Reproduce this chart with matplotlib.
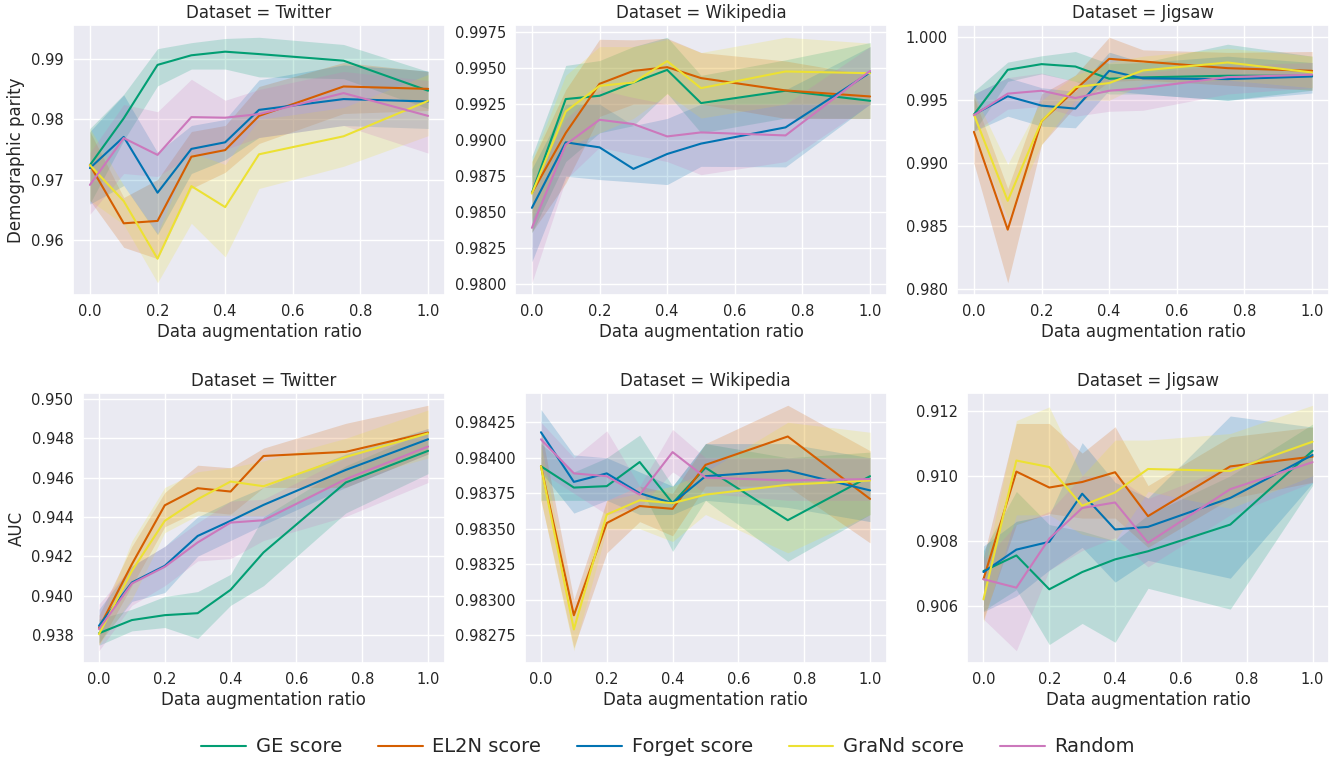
import matplotlib
matplotlib.use("Agg")
import matplotlib.pyplot as plt
import seaborn as sns
from matplotlib.ticker import MultipleLocator, ScalarFormatter
from matplotlib.lines import Line2D

# Data augmentation ratios shared by every panel
X = [0.0, 0.1, 0.2, 0.3, 0.4, 0.5, 0.75, 1.0]
METHODS = ["GE score", "EL2N score", "Forget score", "GraNd score", "Random"]
COLORS = ["#029e73", "#d55e00", "#0173b2", "#ece133", "#cc78bc"]

# ---- Demographic parity, Twitter (mean, lower band, upper band per method)
twitter_dp_mean = {
    "GE score":     [0.9724, 0.9802, 0.9891, 0.9907, 0.9913, 0.9909, 0.9898, 0.9848],
    "EL2N score":   [0.9724, 0.9627, 0.9631, 0.9738, 0.9749, 0.9806, 0.9855, 0.9851],
    "Forget score": [0.9719, 0.9771, 0.9678, 0.9751, 0.9762, 0.9816, 0.9834, 0.9830],
    "GraNd score":  [0.9724, 0.9664, 0.9568, 0.9689, 0.9654, 0.9742, 0.9772, 0.9831],
    "Random":       [0.9691, 0.9769, 0.9741, 0.9804, 0.9803, 0.9809, 0.9844, 0.9806],
}
twitter_dp_lo = {
    "GE score":     [0.9660, 0.9765, 0.9856, 0.9884, 0.9884, 0.9871, 0.9868, 0.9818],
    "EL2N score":   [0.9665, 0.9587, 0.9568, 0.9685, 0.9712, 0.9760, 0.9810, 0.9815],
    "Forget score": [0.9659, 0.9690, 0.9608, 0.9710, 0.9733, 0.9770, 0.9790, 0.9785],
    "GraNd score":  [0.9665, 0.9625, 0.9528, 0.9627, 0.9571, 0.9685, 0.9722, 0.9773],
    "Random":       [0.9642, 0.9710, 0.9705, 0.9740, 0.9750, 0.9770, 0.9790, 0.9744],
}
twitter_dp_hi = {
    "GE score":     [0.9785, 0.9842, 0.9918, 0.9928, 0.9935, 0.9937, 0.9925, 0.9880],
    "EL2N score":   [0.9780, 0.9670, 0.9700, 0.9780, 0.9790, 0.9855, 0.9895, 0.9880],
    "Forget score": [0.9780, 0.9841, 0.9745, 0.9790, 0.9800, 0.9866, 0.9891, 0.9881],
    "GraNd score":  [0.9785, 0.9690, 0.9610, 0.9745, 0.9725, 0.9800, 0.9820, 0.9875],
    "Random":       [0.9745, 0.9825, 0.9813, 0.9867, 0.9832, 0.9850, 0.9880, 0.9865],
}

# ---- Demographic parity, Wikipedia
wikipedia_dp_mean = {
    "GE score":     [0.98632, 0.99285, 0.99308, 0.99400, 0.99488, 0.99257, 0.99343, 0.99273],
    "EL2N score":   [0.98632, 0.99049, 0.99391, 0.99481, 0.99507, 0.99431, 0.99345, 0.99303],
    "Forget score": [0.98528, 0.98984, 0.98949, 0.98799, 0.98903, 0.98975, 0.99088, 0.99470],
    "GraNd score":  [0.98627, 0.99199, 0.99377, 0.99400, 0.99549, 0.99361, 0.99477, 0.99465],
    "Random":       [0.98389, 0.98968, 0.99141, 0.99111, 0.99025, 0.99053, 0.99032, 0.99481],
}
wikipedia_dp_lo = {
    "GE score":     [0.98354, 0.98850, 0.99050, 0.99100, 0.99326, 0.99050, 0.99153, 0.99150],
    "EL2N score":   [0.98359, 0.98700, 0.99164, 0.99250, 0.99250, 0.99250, 0.99150, 0.99150],
    "Forget score": [0.98153, 0.98748, 0.98725, 0.98708, 0.98690, 0.98817, 0.98813, 0.99250],
    "GraNd score":  [0.98450, 0.98950, 0.99050, 0.99150, 0.99320, 0.99153, 0.99250, 0.99250],
    "Random":       [0.98007, 0.98725, 0.98950, 0.98898, 0.98850, 0.98759, 0.98850, 0.99250],
}
wikipedia_dp_hi = {
    "GE score":     [0.98887, 0.99519, 0.99553, 0.99650, 0.99715, 0.99450, 0.99558, 0.99678],
    "EL2N score":   [0.98850, 0.99350, 0.99701, 0.99697, 0.99708, 0.99609, 0.99550, 0.99450],
    "Forget score": [0.98800, 0.99250, 0.99250, 0.99100, 0.99150, 0.99250, 0.99350, 0.99650],
    "GraNd score":  [0.98852, 0.99450, 0.99650, 0.99650, 0.99700, 0.99609, 0.99715, 0.99674],
    "Random":       [0.98700, 0.99150, 0.99350, 0.99296, 0.99250, 0.99250, 0.99250, 0.99650],
}

# ---- Demographic parity, Jigsaw
jigsaw_dp_mean = {
    "GE score":     [0.99387, 0.99742, 0.99787, 0.99768, 0.99671, 0.99682, 0.99695, 0.99695],
    "EL2N score":   [0.99250, 0.98474, 0.99334, 0.99584, 0.99829, 0.99808, 0.99755, 0.99734],
    "Forget score": [0.99387, 0.99532, 0.99458, 0.99434, 0.99734, 0.99674, 0.99668, 0.99689],
    "GraNd score":  [0.99387, 0.98703, 0.99334, 0.99605, 0.99637, 0.99737, 0.99800, 0.99721],
    "Random":       [0.99382, 0.99553, 0.99576, 0.99518, 0.99576, 0.99597, 0.99684, 0.99703],
}
jigsaw_dp_lo = {
    "GE score":     [0.99250, 0.99650, 0.99710, 0.99650, 0.99550, 0.99550, 0.99500, 0.99580],
    "EL2N score":   [0.99000, 0.98053, 0.99150, 0.99450, 0.99650, 0.99660, 0.99620, 0.99580],
    "Forget score": [0.99255, 0.99374, 0.99295, 0.99282, 0.99580, 0.99550, 0.99500, 0.99558],
    "GraNd score":  [0.99250, 0.98563, 0.99150, 0.99500, 0.99500, 0.99630, 0.99660, 0.99600],
    "Random":       [0.99250, 0.99430, 0.99450, 0.99374, 0.99413, 0.99421, 0.99550, 0.99600],
}
jigsaw_dp_hi = {
    "GE score":     [0.99571, 0.99803, 0.99853, 0.99887, 0.99790, 0.99800, 0.99945, 0.99850],
    "EL2N score":   [0.99526, 0.98800, 0.99550, 0.99700, 1.00000, 0.99900, 0.99880, 0.99887],
    "Forget score": [0.99550, 0.99680, 0.99600, 0.99570, 0.99882, 0.99800, 0.99850, 0.99800],
    "GraNd score":  [0.99550, 0.98992, 0.99500, 0.99700, 0.99800, 0.99850, 0.99913, 0.99850],
    "Random":       [0.99550, 0.99680, 0.99716, 0.99650, 0.99680, 0.99720, 0.99780, 0.99800],
}

# ---- AUC, Twitter
twitter_auc_mean = {
    "GE score":     [0.93808, 0.93875, 0.93900, 0.93910, 0.94029, 0.94219, 0.94575, 0.94736],
    "EL2N score":   [0.93834, 0.94159, 0.94459, 0.94546, 0.94529, 0.94710, 0.94731, 0.94829],
    "Forget score": [0.93846, 0.94066, 0.94151, 0.94303, 0.94380, 0.94461, 0.94639, 0.94795],
    "GraNd score":  [0.93803, 0.94125, 0.94380, 0.94490, 0.94580, 0.94556, 0.94705, 0.94825],
    "Random":       [0.93829, 0.94061, 0.94146, 0.94270, 0.94371, 0.94383, 0.94592, 0.94758],
}
twitter_auc_lo = {
    "GE score":     [0.93747, 0.93820, 0.93837, 0.93781, 0.93950, 0.94050, 0.94420, 0.94620],
    "EL2N score":   [0.93750, 0.94050, 0.94350, 0.94430, 0.94414, 0.94550, 0.94550, 0.94720],
    "Forget score": [0.93760, 0.93970, 0.94015, 0.94200, 0.94280, 0.94360, 0.94550, 0.94720],
    "GraNd score":  [0.93750, 0.93980, 0.94320, 0.94408, 0.94408, 0.94405, 0.94580, 0.94700],
    "Random":       [0.93719, 0.93950, 0.94050, 0.94176, 0.94188, 0.94280, 0.94402, 0.94575],
}
twitter_auc_hi = {
    "GE score":     [0.93880, 0.93930, 0.93995, 0.94020, 0.94108, 0.94400, 0.94660, 0.94840],
    "EL2N score":   [0.93900, 0.94250, 0.94524, 0.94663, 0.94650, 0.94750, 0.94876, 0.94968],
    "Forget score": [0.93930, 0.94150, 0.94250, 0.94400, 0.94480, 0.94550, 0.94720, 0.94850],
    "GraNd score":  [0.93850, 0.94278, 0.94550, 0.94630, 0.94651, 0.94685, 0.94800, 0.94944],
    "Random":       [0.93956, 0.94150, 0.94250, 0.94370, 0.94480, 0.94490, 0.94700, 0.94850],
}

# ---- AUC, Wikipedia
wikipedia_auc_mean = {
    "GE score":     [0.98394, 0.98379, 0.98380, 0.98397, 0.98368, 0.98393, 0.98356, 0.98387],
    "EL2N score":   [0.98394, 0.98289, 0.98354, 0.98366, 0.98364, 0.98395, 0.98415, 0.98371],
    "Forget score": [0.98418, 0.98383, 0.98389, 0.98375, 0.98368, 0.98387, 0.98391, 0.98377],
    "GraNd score":  [0.98394, 0.98279, 0.98360, 0.98370, 0.98368, 0.98374, 0.98381, 0.98384],
    "Random":       [0.98413, 0.98389, 0.98387, 0.98374, 0.98404, 0.98386, 0.98384, 0.98385],
}
wikipedia_auc_lo = {
    "GE score":     [0.98370, 0.98370, 0.98370, 0.98380, 0.98334, 0.98370, 0.98327, 0.98360],
    "EL2N score":   [0.98370, 0.98266, 0.98333, 0.98355, 0.98345, 0.98380, 0.98380, 0.98340],
    "Forget score": [0.98390, 0.98361, 0.98370, 0.98360, 0.98360, 0.98370, 0.98365, 0.98355],
    "GraNd score":  [0.98370, 0.98264, 0.98350, 0.98350, 0.98341, 0.98360, 0.98333, 0.98360],
    "Random":       [0.98390, 0.98375, 0.98360, 0.98365, 0.98390, 0.98375, 0.98370, 0.98370],
}
wikipedia_auc_hi = {
    "GE score":     [0.98410, 0.98390, 0.98400, 0.98416, 0.98380, 0.98410, 0.98400, 0.98404],
    "EL2N score":   [0.98420, 0.98300, 0.98370, 0.98380, 0.98375, 0.98410, 0.98437, 0.98405],
    "Forget score": [0.98434, 0.98402, 0.98400, 0.98390, 0.98380, 0.98410, 0.98410, 0.98400],
    "GraNd score":  [0.98410, 0.98290, 0.98370, 0.98375, 0.98380, 0.98390, 0.98425, 0.98418],
    "Random":       [0.98425, 0.98400, 0.98419, 0.98380, 0.98420, 0.98400, 0.98400, 0.98400],
}

# ---- AUC, Jigsaw
jigsaw_auc_mean = {
    "GE score":     [0.90707, 0.90755, 0.90651, 0.90704, 0.90743, 0.90768, 0.90850, 0.91077],
    "EL2N score":   [0.90682, 0.91013, 0.90964, 0.90981, 0.91011, 0.90876, 0.91029, 0.91059],
    "Forget score": [0.90704, 0.90773, 0.90797, 0.90945, 0.90835, 0.90843, 0.90932, 0.91064],
    "GraNd score":  [0.90620, 0.91047, 0.91027, 0.90908, 0.90949, 0.91021, 0.91015, 0.91105],
    "Random":       [0.90682, 0.90656, 0.90807, 0.90901, 0.90918, 0.90794, 0.90959, 0.91042],
}
jigsaw_auc_lo = {
    "GE score":     [0.90585, 0.90650, 0.90481, 0.90546, 0.90488, 0.90654, 0.90590, 0.90970],
    "EL2N score":   [0.90559, 0.90850, 0.90884, 0.90870, 0.90870, 0.90780, 0.90930, 0.90980],
    "Forget score": [0.90582, 0.90630, 0.90710, 0.90780, 0.90673, 0.90740, 0.90685, 0.90978],
    "GraNd score":  [0.90550, 0.90880, 0.90880, 0.90820, 0.90800, 0.90952, 0.90900, 0.91000],
    "Random":       [0.90559, 0.90462, 0.90710, 0.90770, 0.90810, 0.90720, 0.90880, 0.90980],
}
jigsaw_auc_hi = {
    "GE score":     [0.90770, 0.90952, 0.90850, 0.90830, 0.90800, 0.90880, 0.91000, 0.91159],
    "EL2N score":   [0.90750, 0.91161, 0.91161, 0.91070, 0.91151, 0.90970, 0.91120, 0.91150],
    "Forget score": [0.90784, 0.90860, 0.90880, 0.91102, 0.90980, 0.90932, 0.91184, 0.91150],
    "GraNd score":  [0.90700, 0.91170, 0.91212, 0.91000, 0.91110, 0.91110, 0.91130, 0.91217],
    "Random":       [0.90740, 0.90850, 0.90890, 0.91000, 0.91000, 0.90930, 0.91030, 0.91100],
}

DATASETS = ["Twitter", "Wikipedia", "Jigsaw"]
ROWS = [
    ("Demographic parity",
     [(twitter_dp_mean, twitter_dp_lo, twitter_dp_hi, 0.01),
      (wikipedia_dp_mean, wikipedia_dp_lo, wikipedia_dp_hi, 0.0025),
      (jigsaw_dp_mean, jigsaw_dp_lo, jigsaw_dp_hi, 0.005)]),
    ("AUC",
     [(twitter_auc_mean, twitter_auc_lo, twitter_auc_hi, 0.002),
      (wikipedia_auc_mean, wikipedia_auc_lo, wikipedia_auc_hi, 0.00025),
      (jigsaw_auc_mean, jigsaw_auc_lo, jigsaw_auc_hi, 0.002)]),
]

sns.set_theme(style="darkgrid")
plt.rcParams["font.family"] = ["DejaVu Sans"]

W, H = 1336, 762
fig = plt.figure(figsize=(W / 100, H / 100), dpi=100)

# pixel layout of each row: (top, left edges, axes width)
ROW_LAYOUT = [
    (25, [73, 515, 957], 372),
    (393, [82.5, 524.5, 967], 362),
]
ax_h = 270
YLABEL_X_PX = 25.5

for r, (ylabel, panels) in enumerate(ROWS):
    top, lefts, ax_w = ROW_LAYOUT[r]
    for c, (mean, lo, hi, step) in enumerate(panels):
        ax = fig.add_axes([lefts[c] / W, 1 - (top + ax_h) / H, ax_w / W, ax_h / H])
        for m, col in zip(METHODS, COLORS):
            ax.fill_between(X, lo[m], hi[m], color=col, alpha=0.2, linewidth=0)
            ax.plot(X, mean[m], color=col, lw=1.5)
        ax.set_xticks([0.0, 0.2, 0.4, 0.6, 0.8, 1.0])
        ax.yaxis.set_major_locator(MultipleLocator(step))
        ax.yaxis.set_major_formatter(ScalarFormatter(useOffset=False))
        ax.tick_params(labelsize=10.5, length=0, pad=6.5)
        ax.set_title(f"Dataset = {DATASETS[c]}", fontsize=12, pad=5)
        ax.set_xlabel("Data augmentation ratio", fontsize=12, labelpad=3)
        if c == 0:
            ax.set_ylabel(ylabel, fontsize=12)
            ax.yaxis.set_label_coords((YLABEL_X_PX - lefts[c]) / ax_w, 0.5)

handles = [Line2D([0], [0], color=col, lw=1.5) for col in COLORS]
fig.legend(handles, METHODS, loc="center", bbox_to_anchor=(0.5, 1 - 747 / H),
           ncol=5, frameon=False, fontsize=14, handlelength=2.3,
           handletextpad=0.5, columnspacing=1.85)

fig.savefig("out.png", dpi=100)
